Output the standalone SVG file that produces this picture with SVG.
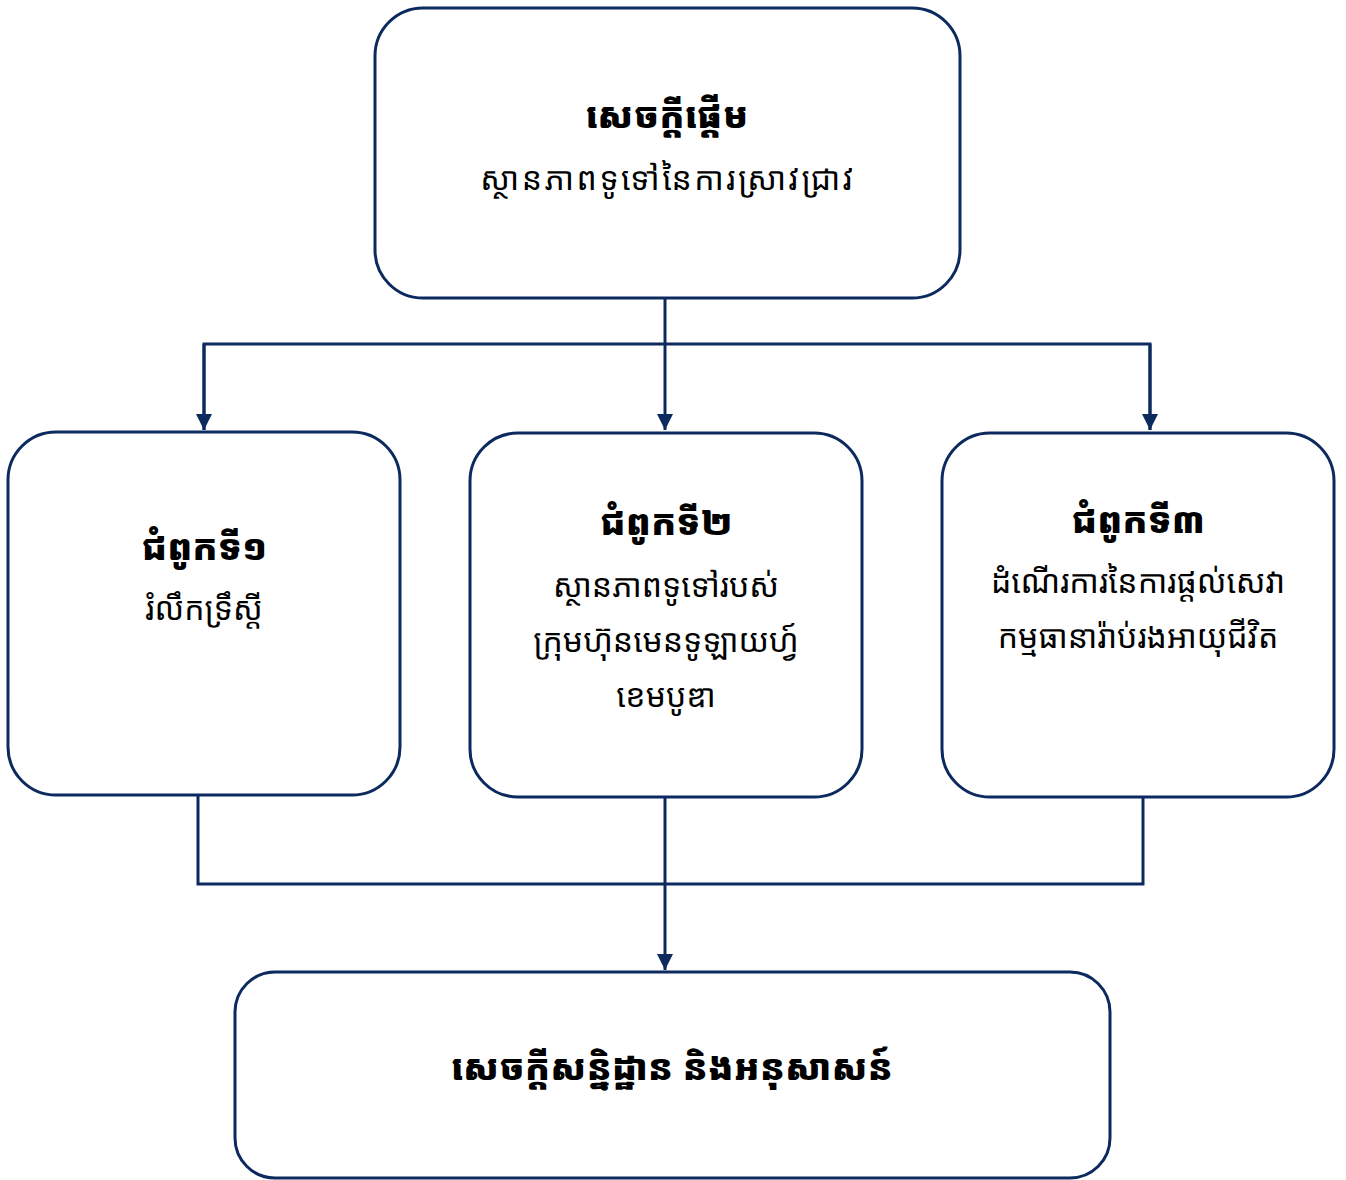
<svg xmlns="http://www.w3.org/2000/svg" width="1346" height="1180" viewBox="0 0 1346 1180">
<style>
.box{fill:#fff;stroke:#0d2a5f;stroke-width:3}
.c{fill:none;stroke:#0d2a5f;stroke-width:3}
text{font-family:"Khmer OS","Noto Sans Khmer","Noto Serif Khmer","Noto Sans","DejaVu Sans",sans-serif;text-anchor:middle;fill:#000}
.b{font-weight:900;font-size:36px}
.n{font-size:32px}
.w{letter-spacing:2.5px}
</style>
<defs>
<marker id="a" viewBox="0 0 12 12" refX="12" refY="6" markerWidth="16" markerHeight="16" markerUnits="userSpaceOnUse" orient="auto">
<path d="M0,0 L12,6 L0,12 z" fill="#0d2a5f"/>
</marker>
</defs>
<g id="connectors">
<path class="c" d="M665,298 V430" marker-end="url(#a)"/>
<path class="c" d="M204,430 V344 H1150 V430"/>
<path class="c" d="M204,344 V430" marker-end="url(#a)"/>
<path class="c" d="M1150,344 V430" marker-end="url(#a)"/>
<path class="c" d="M198,795 V884 H1143 V797"/>
<path class="c" d="M665,797 V970" marker-end="url(#a)"/>
</g>
<g id="intro">
<rect class="box" x="375" y="8" width="585" height="290" rx="48"/>
<text class="b" x="667" y="128">សេចក្តីផ្តើម</text>
<text class="n w" x="668" y="190">ស្ថានភាពទូទៅនៃការស្រាវជ្រាវ</text>
</g>
<g id="chapter1">
<rect class="box" x="8" y="432" width="392" height="363" rx="48"/>
<text class="b" x="204" y="560">ជំពូកទី១</text>
<text class="n" x="204" y="620">រំលឹកទ្រឹស្តី</text>
</g>
<g id="chapter2">
<rect class="box" x="470" y="433" width="392" height="364" rx="48"/>
<text class="b" x="666" y="535">ជំពូកទី២</text>
<text class="n" x="666" y="597">ស្ថានភាពទូទៅរបស់</text>
<text class="n" x="666" y="652">ក្រុមហ៊ុនមេនទូឡាយហ្វ៍</text>
<text class="n" x="666" y="707">ខេមបូឌា</text>
</g>
<g id="chapter3">
<rect class="box" x="942" y="433" width="392" height="364" rx="48"/>
<text class="b" x="1138" y="533">ជំពូកទី៣</text>
<text class="n" x="1138" y="593">ដំណើរការនៃការផ្តល់សេវា</text>
<text class="n" x="1138" y="648">កម្មធានារ៉ាប់រងអាយុជីវិត</text>
</g>
<g id="conclusion">
<rect class="box" x="235" y="972" width="875" height="206" rx="40"/>
<text class="b" x="672" y="1080">សេចក្តីសន្និដ្ឋាន និងអនុសាសន៍</text>
</g>
</svg>
